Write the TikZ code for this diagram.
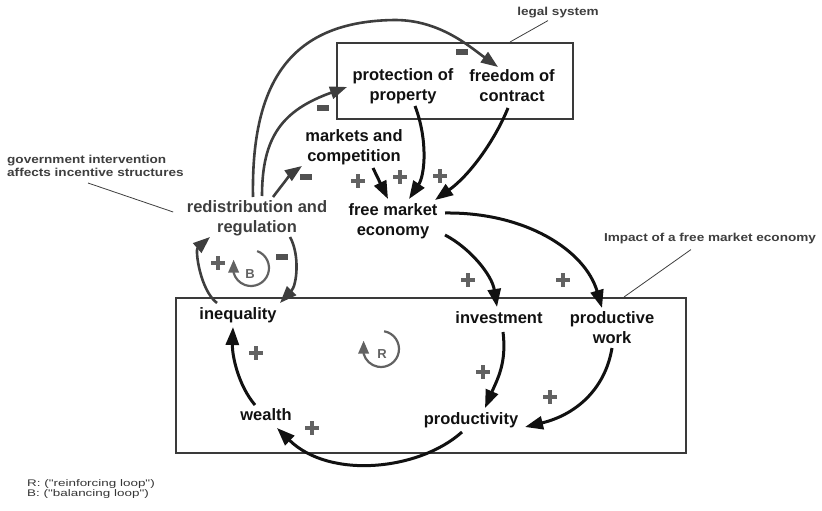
\documentclass[tikz,border=0pt]{standalone}
\usepackage{fontspec}
\setmainfont{Liberation Sans}
\newfontfamily\notefont[FakeStretch=1.18]{Liberation Sans}
\newfontfamily\keyfont[FakeStretch=1.4]{Liberation Sans}
\usetikzlibrary{arrows.meta,calc}

\definecolor{ink}{HTML}{111111}
\definecolor{policy}{HTML}{3E3E3E}
\definecolor{signgray}{HTML}{626262}
\definecolor{frame}{HTML}{3A3A3A}

\tikzset{
  var/.style={font=\bfseries\fontsize{16.5}{20}\selectfont, align=center, inner sep=0pt, text=ink},
  causal/.style={line width=3pt, draw=ink, -{Triangle[length=18pt,width=13pt]}},
  policylink/.style={line width=2.6pt, draw=policy, -{Triangle[length=17pt,width=12.5pt]}},
  note/.style={font=\notefont\bfseries\fontsize{11.5}{13}\selectfont, text=policy, inner sep=0pt, align=left},
  keytext/.style={font=\keyfont\fontsize{9.6}{10}\selectfont, text=ink!85, inner sep=0pt, align=left},
  leader/.style={line width=0.8pt, draw=policy},
  sector/.style={draw=frame, line width=2pt, inner sep=0pt},
  loopmark/.style={draw=signgray, line width=2.2pt, -{Triangle[length=13pt,width=10.5pt]}},
  looptag/.style={font=\bfseries\fontsize{13}{13}\selectfont, text=signgray, inner sep=0pt},
  possign/.pic={\draw[signgray, line width=4pt] (-7,0) -- (7,0) (0,-7) -- (0,7);},
  negsign/.pic={\fill[policy!90] (-6,-2.8) rectangle (6,2.8);}
}

\begin{document}
\begin{tikzpicture}[x=1pt, y=-1pt]
\useasboundingbox (0,0) rectangle (822,511);

% system boundaries
\node[sector, minimum width=236, minimum height=76] (legal) at (455,81) {};
\node[sector, minimum width=510, minimum height=155] (impact) at (431,375.5) {};

% boundary annotations
\node[note] (lsys) at (558,13) {legal system};
\node[note] (impl) at (710,239) {Impact of a free market economy};
\node[note, anchor=west] (gov) at (7,165.5) {government intervention\\affects incentive structures};

% variables
\node[var] (prop) at (403,86) {protection of\\property};
\node[var] (free) at (512,86) {freedom of\\contract};
\node[var] (mkt) at (354,147) {markets and\\competition};
\node[var] (fme) at (393,221) {free market\\economy};
\node[var, text=policy] (redis) at (257,218) {redistribution and\\regulation};
\node[var] (ineq) at (238,315) {inequality};
\node[var] (inv) at (499,318) {investment};
\node[var] (pw) at (612,328) {productive\\work};
\node[var] (prodv) at (471,420) {productivity};
\node[var] (wealth) at (266,415) {wealth};

% annotation leaders
\draw[leader] ($(legal.north)+(55,0)$) -- ($(lsys.south)+(-10,2)$);
\draw[leader] ($(impact.north)+(193,0)$) -- ($(impl.south)+(-19,5)$);
\draw[leader] ($(gov.west)+(81,17.5)$) -- ($(redis.west)+(-13.5,-6)$);

% drivers of the free market economy
\draw[causal] ($(prop)+(12,20)$) .. controls ($(prop)+(25,54)$) and ($(prop)+(22,89)$) .. ($(fme)+(16,-22)$);
\draw[causal] ($(free)+(-4,22)$) .. controls ($(free)+(-17,54)$) and ($(free)+(-42,89)$) .. ($(fme)+(42,-21)$);
\draw[causal] ($(mkt)+(19,21)$) -- ($(fme)+(-5,-22)$);

% policy interventions
\draw[policylink] ($(redis)+(16,-21)$) .. controls ($(redis)+(25,-33)$) and ($(redis)+(35,-45)$) .. ($(mkt)+(-52,19)$);
\draw[policylink] ($(redis)+(5,-22)$) .. controls ($(redis)+(5,-82)$) and ($(redis)+(26,-108)$) .. ($(prop)+(-56,1)$);
\draw[policylink] ($(redis)+(-4,-21)$) .. controls ($(redis)+(-6,-138)$) and ($(redis)+(35,-197)$) .. ($(redis)+(138,-198)$)
  .. controls ($(free)+(-72,-66)$) and ($(free)+(-42,-39)$) .. ($(free)+(-14,-19)$);

% impact of the free market economy
\draw[causal] ($(fme)+(52,14)$) .. controls ($(fme)+(77,27)$) and ($(fme)+(99,54)$) .. ($(inv)+(-2,-11)$);
\draw[causal] ($(fme)+(52,-8)$) .. controls ($(fme)+(132,-9)$) and ($(fme)+(192,29)$) .. ($(pw)+(-10,-20)$);
\draw[causal] ($(inv)+(4,14)$) .. controls ($(inv)+(8,45)$) and ($(prodv)+(26,-40)$) .. ($(prodv)+(14,-12)$);
\draw[causal] ($(pw)+(0,20)$) .. controls ($(pw)+(-7,62)$) and ($(prodv)+(104,-5)$) .. ($(prodv)+(54,7)$);
\draw[causal] ($(prodv)+(-9,12)$) .. controls ($(prodv)+(-51,50)$) and ($(wealth)+(64,65)$) .. ($(wealth)+(11,13)$);
\draw[causal] ($(wealth)+(-11,-10)$) .. controls ($(wealth)+(-28,-30)$) and ($(ineq)+(-6,40)$) .. ($(ineq)+(-5,12)$);

% balancing feedback
\draw[policylink] ($(ineq)+(-21,-12)$) .. controls ($(ineq)+(-38,-25)$) and ($(redis)+(-62,32)$) .. ($(redis)+(-47,19)$);
\draw[policylink] ($(redis)+(33,19)$) .. controls ($(redis)+(43,37)$) and ($(ineq)+(59,-30)$) .. ($(ineq)+(42,-12)$);

% polarities
\pic at (358,181) {possign};
\pic at (400,177) {possign};
\pic at (440,176) {possign};
\pic at (306,177) {negsign};
\pic at (323,108) {negsign};
\pic at (462,52) {negsign};
\pic at (468,280) {possign};
\pic at (563,280) {possign};
\pic at (483,372) {possign};
\pic at (550,397) {possign};
\pic at (312,428) {possign};
\pic at (256,353) {possign};
\pic at (218,263) {possign};
\pic at (282,257) {negsign};

% loop markers
\coordinate (rloop) at (381,349);
\node[looptag] (rtag) at (382,354) {R};
\draw[loopmark] (rloop) ++(-80:18) arc[start angle=-80, end angle=165, radius=18] -- ++(0,-13);
\coordinate (bloop) at (251,268);
\node[looptag] (btag) at (250,274) {B};
\draw[loopmark] (bloop) ++(-70:18) arc[start angle=-70, end angle=165, radius=18] -- ++(0,-13);

% legend
\node[keytext, anchor=west] (key) at (27,489) {R: ("reinforcing loop")\\B: ("balancing loop")};
\end{tikzpicture}
\end{document}
